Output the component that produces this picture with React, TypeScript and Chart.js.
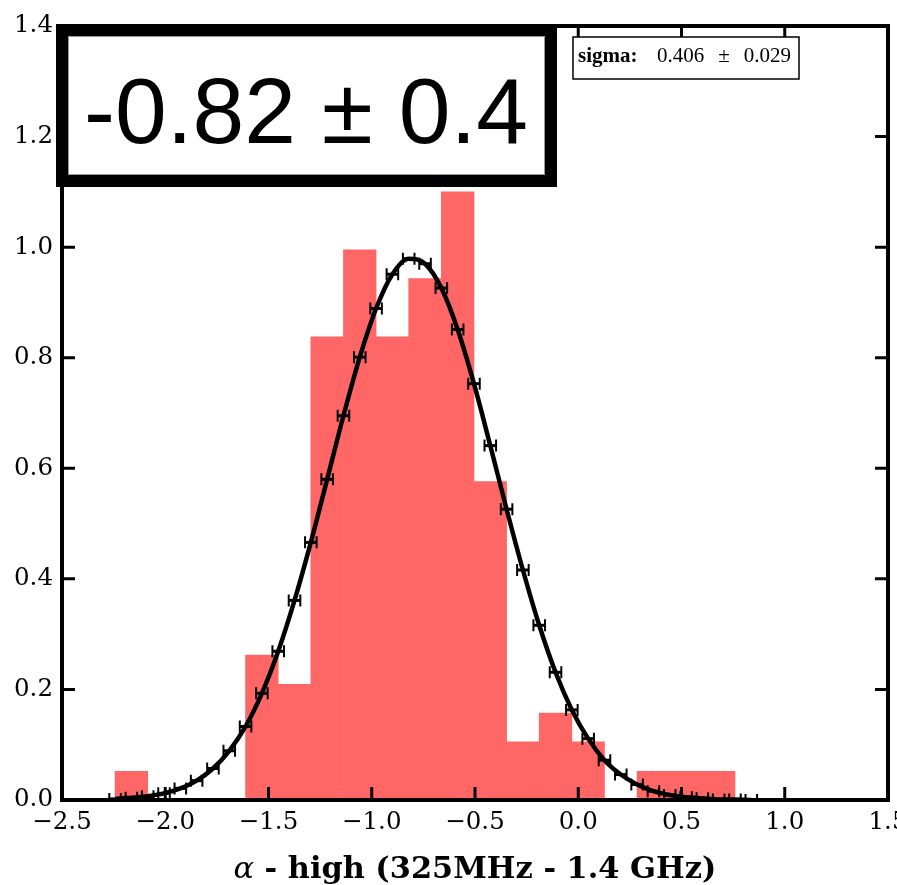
import React, { useEffect, useRef } from 'react';
import { Chart, registerables } from 'chart.js';

Chart.register(...registerables);

// Histogram (density) — bin edges and heights
const binEdges = [-2.243, -2.085, -1.927, -1.769, -1.611, -1.453, -1.295, -1.137, -0.979, -0.821, -0.663, -0.505, -0.347, -0.189, -0.031, 0.127, 0.285, 0.443, 0.601, 0.759];
const binHeights = [0.052, 0, 0, 0, 0.262, 0.209, 0.838, 0.995, 0.838, 0.943, 1.100, 0.576, 0.105, 0.157, 0.105, 0, 0.052, 0.052, 0.052];

// Fitted curve sample points with horizontal error bars
const fitX = [-2.243, -2.164, -2.085, -2.006, -1.927, -1.848, -1.769, -1.690, -1.611, -1.532, -1.453, -1.374, -1.295, -1.216, -1.137, -1.058, -0.979, -0.900, -0.821, -0.742, -0.663, -0.584, -0.505, -0.426, -0.347, -0.268, -0.189, -0.110, -0.031, 0.048, 0.127, 0.206, 0.285, 0.364, 0.443, 0.522, 0.601, 0.680, 0.759, 0.838];
const fitY = [0.002, 0.004, 0.007, 0.012, 0.021, 0.035, 0.057, 0.089, 0.133, 0.193, 0.269, 0.361, 0.466, 0.580, 0.695, 0.801, 0.889, 0.951, 0.979, 0.970, 0.926, 0.851, 0.753, 0.641, 0.526, 0.416, 0.316, 0.231, 0.163, 0.111, 0.072, 0.046, 0.028, 0.016, 0.009, 0.005, 0.003, 0.001, 0.001, 0.000];
const fitXErr = [0.028, 0.028, 0.028, 0.028, 0.028, 0.028, 0.028, 0.028, 0.028, 0.028, 0.028, 0.028, 0.028, 0.028, 0.028, 0.028, 0.028, 0.028, 0.028, 0.028, 0.028, 0.028, 0.028, 0.028, 0.028, 0.028, 0.028, 0.028, 0.028, 0.028, 0.028, 0.028, 0.028, 0.028, 0.028, 0.028, 0.028, 0.028, 0.028, 0.028];

// Axis ranges / ticks
const xRange = [-2.5, 1.5];
const xStep = 0.5;
const yRange = [0, 1.4];
const yStep = 0.2;

// Texts
const bigLabel = '-0.82 \u00b1 0.4';
const sigmaName = 'sigma:';
const sigmaValue = '0.406';
const sigmaErr = '0.029';
const xTitleGreek = '\u03b1';
const xTitleRest = ' - high (325MHz - 1.4 GHz)';

const fmtTick = (v: any) => Number(v).toFixed(1).replace('-', '\u2212');

const decor = {
  id: 'decor',
  afterDatasetsDraw(chart: any) {
    const { ctx, chartArea: a } = chart;
    const xs = chart.scales.x;
    const ys = chart.scales.y;
    ctx.save();
    ctx.beginPath();
    ctx.rect(a.left, a.top, a.right - a.left, a.bottom - a.top);
    ctx.clip();
    ctx.strokeStyle = '#000';
    for (let i = 0; i < fitX.length; i++) {
      const py = ys.getPixelForValue(fitY[i]);
      const x0 = xs.getPixelForValue(fitX[i] - fitXErr[i]);
      const x1 = xs.getPixelForValue(fitX[i] + fitXErr[i]);
      ctx.lineWidth = 3;
      ctx.beginPath();
      ctx.moveTo(x0, py);
      ctx.lineTo(x1, py);
      ctx.stroke();
      ctx.lineWidth = 2;
      ctx.beginPath();
      ctx.moveTo(x0, py - 6);
      ctx.lineTo(x0, py + 6);
      ctx.moveTo(x1, py - 6);
      ctx.lineTo(x1, py + 6);
      ctx.stroke();
    }
    ctx.restore();

    ctx.save();
    ctx.strokeStyle = '#000';
    ctx.lineWidth = 3;
    const tl = 13;
    ctx.beginPath();
    xs.ticks.forEach((t: any) => {
      const p = xs.getPixelForValue(t.value);
      ctx.moveTo(p, a.bottom);
      ctx.lineTo(p, a.bottom - tl);
      ctx.moveTo(p, a.top);
      ctx.lineTo(p, a.top + tl);
    });
    ys.ticks.forEach((t: any) => {
      const p = ys.getPixelForValue(t.value);
      ctx.moveTo(a.left, p);
      ctx.lineTo(a.left + tl, p);
      ctx.moveTo(a.right, p);
      ctx.lineTo(a.right - tl, p);
    });
    ctx.stroke();
    ctx.lineWidth = 4;
    ctx.strokeRect(a.left, a.top, a.right - a.left, a.bottom - a.top);
    ctx.restore();
  },
  afterDraw(chart: any) {
    const { ctx, chartArea: a } = chart;
    ctx.save();
    // Big annotation box
    ctx.fillStyle = '#000';
    ctx.fillRect(56, 24, 501, 163);
    ctx.fillStyle = '#fff';
    ctx.fillRect(69, 37, 475, 137);
    ctx.strokeStyle = '#999';
    ctx.lineWidth = 1;
    ctx.strokeRect(68.5, 36.5, 476, 138);
    ctx.fillStyle = '#000';
    ctx.font = '93px "Liberation Sans"';
    ctx.textAlign = 'center';
    ctx.textBaseline = 'alphabetic';
    ctx.fillText(bigLabel, 306, 143);

    // Sigma legend box
    ctx.fillStyle = '#fff';
    ctx.fillRect(573, 37, 226, 42);
    ctx.strokeStyle = '#000';
    ctx.lineWidth = 1.5;
    ctx.strokeRect(573, 37, 226, 42);
    ctx.fillStyle = '#000';
    ctx.textAlign = 'left';
    ctx.font = 'bold 21px "Liberation Serif"';
    ctx.fillText(sigmaName, 578, 62);
    ctx.font = '21px "Liberation Serif"';
    ctx.fillText(sigmaValue, 657, 62);
    const w1 = ctx.measureText(sigmaValue).width;
    ctx.textAlign = 'right';
    ctx.fillText(sigmaErr, 791, 62);
    const w2 = ctx.measureText(sigmaErr).width;
    ctx.textAlign = 'center';
    ctx.fillText('\u00b1', (657 + w1 + 791 - w2) / 2, 62);

    // X axis title
    const base = 28;
    ctx.font = `italic ${base}px "DejaVu Serif"`;
    const wa = ctx.measureText(xTitleGreek).width;
    ctx.font = `bold ${base}px "DejaVu Serif"`;
    const wb = ctx.measureText(xTitleRest).width;
    const k = 483 / (wa + wb);
    const size = base * k;
    const cx = (a.left + a.right) / 2;
    const startX = cx - (wa + wb) * k / 2;
    ctx.textAlign = 'left';
    ctx.font = `italic ${size}px "DejaVu Serif"`;
    ctx.fillText(xTitleGreek, startX, 878);
    ctx.font = `bold ${size}px "DejaVu Serif"`;
    ctx.fillText(xTitleRest, startX + wa * k, 878);
    ctx.restore();
  },
};

export default function App() {
  const ref = useRef<HTMLCanvasElement>(null);
  useEffect(() => {
    const canvas = ref.current;
    if (!canvas) return;
    const tickFont = { family: '"DejaVu Serif"', size: 24.5 };
    const chart = new Chart(canvas, {
      type: 'bar',
      data: {
        datasets: [
          {
            type: 'line',
            label: 'fit',
            data: fitX.map((v, i) => ({ x: v, y: fitY[i] })),
            borderColor: '#000',
            borderWidth: 4.5,
            pointRadius: 0,
            cubicInterpolationMode: 'monotone',
            fill: false,
            order: 0,
          } as any,
          {
            type: 'bar',
            label: 'hist',
            data: binHeights.map((h, i) => ({ x: (binEdges[i] + binEdges[i + 1]) / 2, y: h })),
            backgroundColor: '#ff6666',
            borderWidth: 0,
            barPercentage: 1,
            categoryPercentage: 1,
            order: 1,
          } as any,
        ],
      },
      options: {
        responsive: false,
        animation: false,
        layout: { padding: { top: 26, right: 42, left: 0, bottom: 0 } },
        plugins: { legend: { display: false }, tooltip: { enabled: false } },
        scales: {
          x: {
            type: 'linear',
            min: xRange[0],
            max: xRange[1],
            offset: false,
            grid: { display: false, drawTicks: false },
            border: { display: false },
            ticks: { stepSize: xStep, padding: 8, font: tickFont, color: '#000', callback: fmtTick },
            afterFit: (s: any) => { s.height = 85; },
          },
          y: {
            type: 'linear',
            min: yRange[0],
            max: yRange[1],
            grid: { display: false, drawTicks: false },
            border: { display: false },
            ticks: { stepSize: yStep, padding: 9, font: tickFont, color: '#000', callback: fmtTick },
            afterFit: (s: any) => { s.width = 62; },
          },
        },
      } as any,
      plugins: [decor],
    });
    return () => chart.destroy();
  }, []);
  return (
    <div style={{ position: 'fixed', left: 0, top: 0, width: 930, height: 885, background: '#fff' }}>
      <canvas ref={ref} width={930} height={885} style={{ display: 'block' }} />
    </div>
  );
}
